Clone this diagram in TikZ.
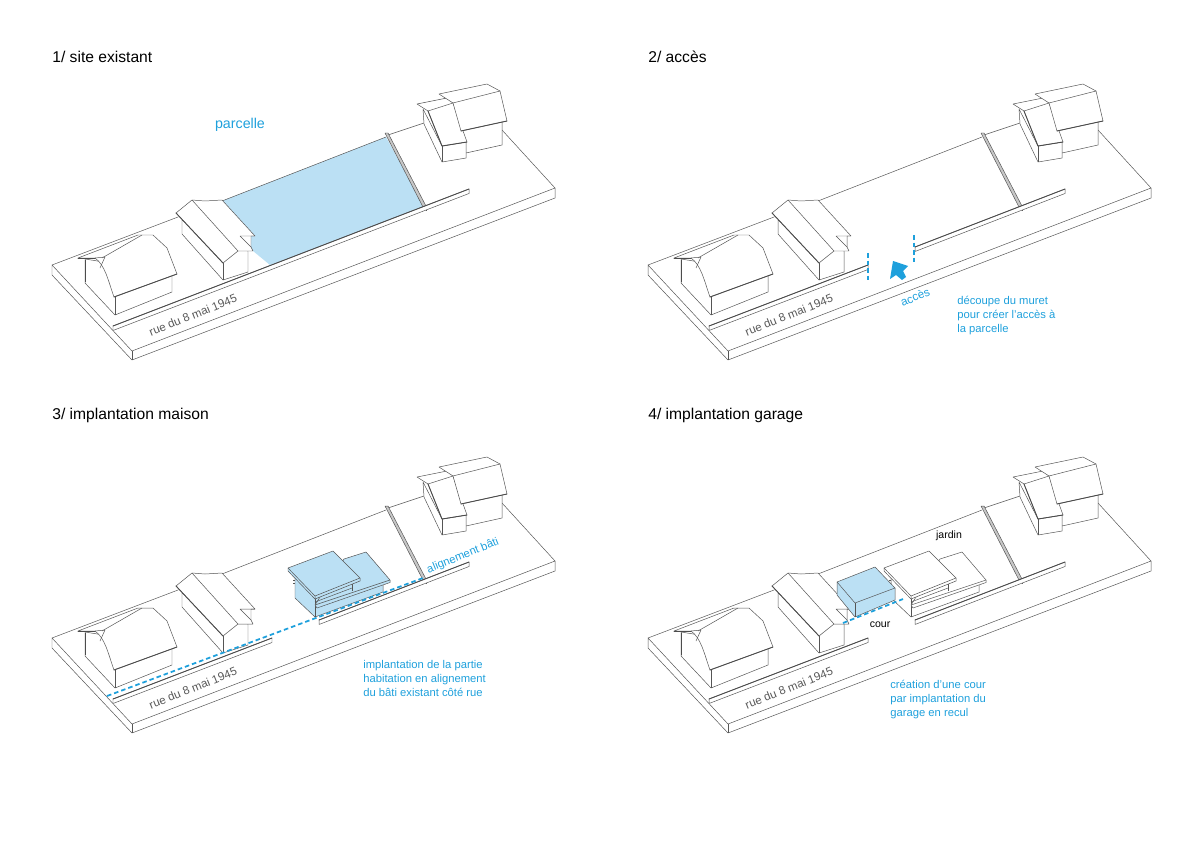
\documentclass[tikz,border=0pt]{standalone}
\usepackage{fontspec}
\setmainfont{Liberation Sans}
\usetikzlibrary{calc}
\definecolor{bleutexte}{RGB}{30,160,220}
\definecolor{bleufond}{RGB}{187,224,244}
\definecolor{trait}{RGB}{85,85,85}

\tikzset{
  fin/.style={draw=trait, line width=0.28pt, line join=round},
  fort/.style={draw=black!70, line width=0.5pt, line cap=round},
  maisonfond/.style={fin, fill=white},
  titre/.style={anchor=west, inner sep=0pt, font=\fontsize{8.9}{10}\selectfont, black},
  note/.style={anchor=north west, inner sep=0pt, align=left, font=\fontsize{6.4}{8}\selectfont, bleutexte},
  rue/.style={rotate=22, font=\fontsize{6.6}{8}\selectfont, black!65},
  repere/.style={bleutexte, line width=1pt, dash pattern=on 2.6pt off 1.7pt},
}

% socle, limite du fond et les trois maisons voisines
\newcommand{\socle}{
  \draw[fin] (52,265) -- (132,351) -- (555,188) -- (555,198) -- (132,360) -- (52,275) -- cycle;
  \draw[fin] (132,351) -- (132,360);
  \draw[fin] (52,265) -- (178,217);
  \draw[fin] (222,201) -- (386,137);
  \draw[fin] (388,135) -- (424,123);
  \draw[fin] (502,130) -- (555,188);
  % mur mitoyen
  \draw[fin, fill=black!22] (385,133) -- (388,133) -- (427,208) -- (424,209) -- cycle;
  \draw[fin] (426,208) -- (426,211);
  % maison 1
  \draw[maisonfond] (85,259) -- (85,283) -- (115,315) -- (172,292) -- (172,273) -- cycle;
  \draw[fin] (115,315) -- (115,297);
  \draw[maisonfond] (78,258) -- (138,235) -- (153,235) -- (167,248) -- (177,274) -- (114,297) .. controls (108,280) and (105,265) .. (95,258) -- cycle;
  \draw[fin] (102,258) -- (142,235);
  \draw[fin] (95,258) -- (105,257) -- (100,268);
  \draw[fort] (78,258) -- (95,258);
  \draw[fort] (85,260) -- (85,282);
  \draw[fort] (114,297) -- (177,274);
  % maison 2
  \draw[maisonfond] (182,220) -- (182,234) -- (223,280) -- (248,272) -- (248,251) -- (223,240) -- cycle;
  \draw[fin] (223,280) -- (223,263);
  \draw[maisonfond] (176,213) -- (192,200) -- (205,201) -- (222,200) -- (255,236) -- (251,236) -- (251,247) -- (253,251) -- (238,251) -- (223,263) -- cycle;
  \draw[fin] (192,200) -- (238,251);
  \draw[fin] (255,236) -- (240,236) -- (251,247);
  \draw[fort] (176,213) -- (223,263);
  % maison 3
  \draw[maisonfond] (466,153) -- (502,145) -- (502,120) -- (460,130) -- cycle;
  \draw[maisonfond] (423,109) -- (424,124) -- (442,162) -- (466,158) -- (466,142) -- (442,146) -- cycle;
  \draw[maisonfond] (417,104) -- (447,98) -- (453,103) -- (467,142) -- (442,146) -- (428,111) -- cycle;
  \draw[fin] (428,111) -- (453,103);
  \draw[fin] (442,146) -- (442,162);
  \draw[maisonfond] (439,94) -- (487,84) -- (500,91) -- (507,121) -- (461,131) -- (453,103) -- cycle;
  \draw[fin] (453,103) -- (500,91);
  \draw[fort] (461,131) -- (507,121);
  \draw[fort] (428,111) -- (442,146) -- (467,142);
}

% muret continu ou coupe par l'acces
\newcommand{\muret}[2]{
  \draw[fin, fill=white] (#1) -- ++(0,4.5) -- ($(#2)+(0,4.5)$) -- (#2) -- cycle;
  \draw[fort] (#1) -- (#2);
}

% maison projetee : toiture et murs, avec la couleur de fond en parametre
\newcommand{\habitation}[1]{
  \draw[fin] (293,580) -- (295,580);
  \draw[fin] (293,583) -- (295,583);
  \draw[fin, fill=#1] (295,572) -- (295,598) -- (315,617) -- (383,592) -- (383,580) -- (315,596) -- cycle;
  \draw[fin] (315,596) -- (315,617);
  \draw[fin, fill=#1] (344,559) -- (366,552) -- (390,580) -- (390,582.5) -- (317,608) -- (315,605) -- cycle;
  \draw[fin] (315,605) -- (390,580);
  \draw[fin] (315,602) -- (352,588);
  \draw[fin] (352,583) -- (352,591);
  \draw[fin, fill=#1] (288,568) -- (333,551) -- (360,578) -- (360,581) -- (315,599) -- (288,571) -- cycle;
  \draw[fin] (315,596) -- (360,578);
  \draw[fin] (288,568) -- (315,596) -- (315,599);
}

\begin{document}
\begin{tikzpicture}[x=0.02cm, y=-0.02cm, >=stealth]
  \useasboundingbox (0,0) rectangle (1200,848);

  % ==========================================
  % 1/ SITE EXISTANT
  % ==========================================
  \node[titre] (titreun) at (52,57) {1/ site existant};
  \fill[bleufond] (222,201) -- (386,137) -- (425,208) -- (270,265) -- (253,251) -- cycle;
  \socle
  \muret{113,326}{469,189}
  \node[rue] (rueun) at (193,315) {rue du 8 mai 1945};
  \node[bleutexte, font=\fontsize{8.1}{10}\selectfont] (parcelle) at (240,125) {parcelle};

  % ==========================================
  % 2/ ACCES
  % ==========================================
  \node[titre] (titredeux) at (648,57) {2/ accès};
  \begin{scope}[shift={(596,0)}]
    \socle
    \muret{113,326}{272,265}
    \muret{319,247}{469,189}
    \node[rue] (ruedeux) at (193,315) {rue du 8 mai 1945};
    % lignes de decoupe et fleche d'entree
    \draw[repere] (272,253) -- (272,282);
    \draw[repere] (318,235) -- (318,263);
    \fill[bleutexte] (297,261) -- (312,266) -- (307,271) -- (310,277) -- (306,280) -- (300,275) -- (294,279) -- cycle;
    \node[rue, bleutexte] (acces) at (319,297) {accès};
    \node[note] (notedeux) at (361,296) {découpe du muret\\pour créer l'accès à\\la parcelle};
  \end{scope}

  % ==========================================
  % 3/ IMPLANTATION MAISON
  % ==========================================
  \node[titre] (titretrois) at (52,415) {3/ implantation maison};
  \begin{scope}[shift={(0,373)}]
    \socle
    \muret{113,326}{272,265}
    \muret{319,247}{469,189}
    \node[rue] (ruetrois) at (193,315) {rue du 8 mai 1945};
  \end{scope}
  \habitation{bleufond}
  \draw[repere] (107,696) -- (423,578);
  \node[rue, bleutexte, font=\fontsize{6.4}{8}\selectfont] (alignement) at (463,556) {alignement bâti};
  \node[note] (notetrois) at (363,660) {implantation de la partie\\habitation en alignement\\du bâti existant côté rue};

  % ==========================================
  % 4/ IMPLANTATION GARAGE
  % ==========================================
  \node[titre] (titrequatre) at (648,415) {4/ implantation garage};
  \begin{scope}[shift={(596,373)}]
    \socle
    \muret{113,326}{272,265}
    \muret{319,247}{469,189}
    \node[rue] (ruequatre) at (193,315) {rue du 8 mai 1945};
  \end{scope}
  \begin{scope}[shift={(596,0)}]
    \habitation{white}
    % garage
    \draw[fin, fill=bleufond] (241,582) -- (279,567) -- (299,588) -- (299,600) -- (259,617) -- (241,595) -- cycle;
    \draw[fin] (241,582) -- (259,603) -- (299,588);
    \draw[fin] (259,603) -- (259,617);
    \draw[repere] (247,623) -- (307,599);
    \node[font=\fontsize{6}{7}\selectfont] (jardin) at (353,536) {jardin};
    \node[font=\fontsize{6}{7}\selectfont] (cour) at (284,625) {cour};
    \node[note] (notequatre) at (294,680) {création d'une cour\\par implantation du\\garage en recul};
  \end{scope}
\end{tikzpicture}
\end{document}
